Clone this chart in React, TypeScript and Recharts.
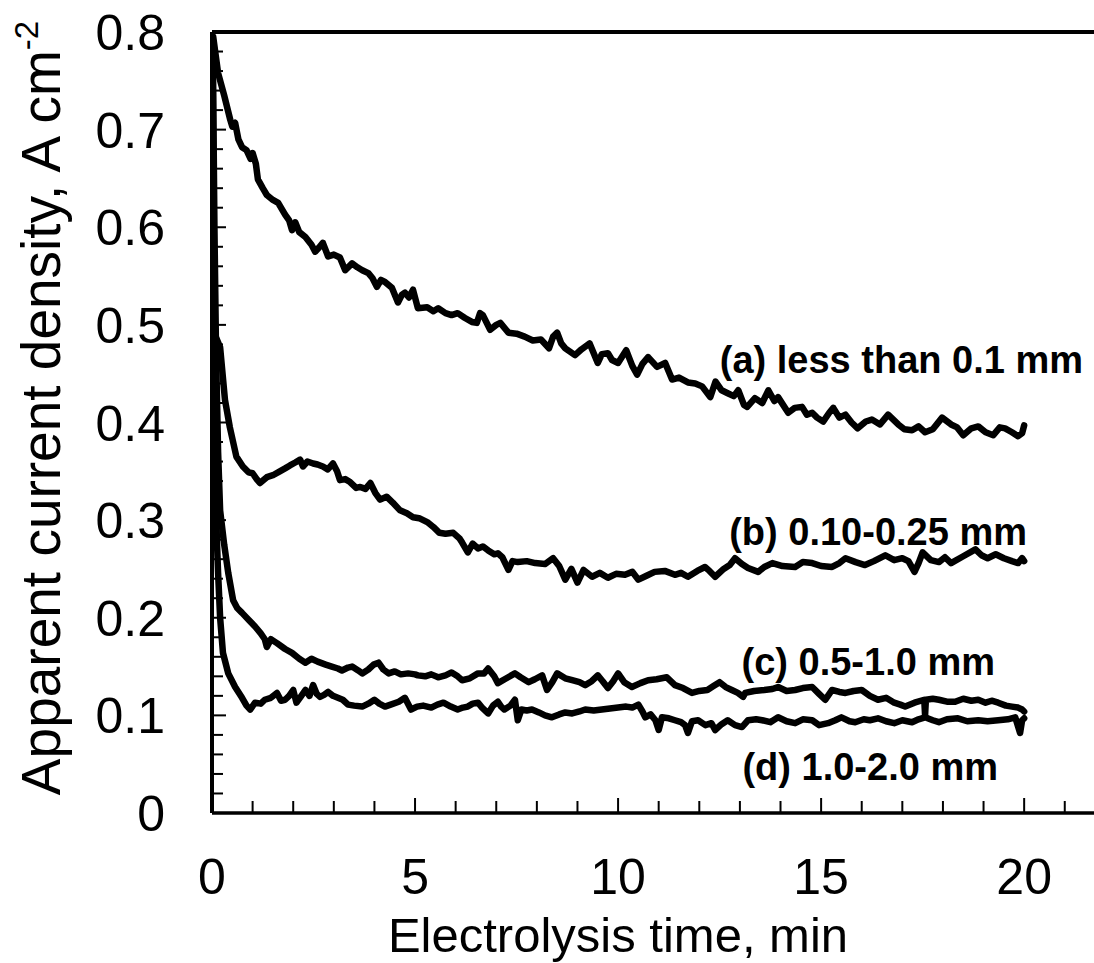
import { LineChart, Line, XAxis, YAxis, ReferenceLine } from "recharts";

// time (min), apparent current density (A cm-2)
const curveA: [number, number][] = [
  [0.03, 0.795], [0.15, 0.758], [0.3, 0.735], [0.45, 0.71], [0.5, 0.703], [0.57, 0.707],
  [0.65, 0.69], [0.74, 0.682], [0.85, 0.679], [0.95, 0.67], [1.0, 0.676], [1.08, 0.665],
  [1.13, 0.649], [1.25, 0.64], [1.35, 0.633], [1.5, 0.628], [1.63, 0.625], [1.8, 0.613],
  [1.9, 0.607], [1.97, 0.597], [2.05, 0.605], [2.15, 0.595], [2.3, 0.59], [2.45, 0.582],
  [2.54, 0.575], [2.63, 0.579], [2.73, 0.584], [2.86, 0.57], [3.0, 0.572], [3.15, 0.569],
  [3.28, 0.556], [3.45, 0.563], [3.58, 0.559], [3.7, 0.556], [3.85, 0.553], [3.95, 0.548],
  [4.06, 0.539], [4.16, 0.546], [4.26, 0.544], [4.43, 0.538], [4.58, 0.523], [4.68, 0.531],
  [4.75, 0.533], [4.85, 0.528], [4.95, 0.536], [5.07, 0.517], [5.3, 0.518], [5.45, 0.514],
  [5.57, 0.517], [5.75, 0.512], [5.9, 0.51], [6.05, 0.512], [6.23, 0.507], [6.4, 0.503],
  [6.52, 0.502], [6.6, 0.512], [6.67, 0.51], [6.85, 0.495], [7.0, 0.5], [7.1, 0.502],
  [7.3, 0.492], [7.5, 0.491], [7.7, 0.488], [7.9, 0.484], [8.1, 0.485], [8.3, 0.476],
  [8.4, 0.488], [8.5, 0.492], [8.6, 0.481], [8.7, 0.476], [8.94, 0.469], [9.1, 0.475],
  [9.3, 0.481], [9.5, 0.461], [9.6, 0.47], [9.75, 0.471], [9.85, 0.464], [10.0, 0.461],
  [10.2, 0.474], [10.35, 0.458], [10.47, 0.449], [10.6, 0.46], [10.74, 0.467], [10.96, 0.457],
  [11.16, 0.461], [11.33, 0.444], [11.5, 0.446], [11.72, 0.441], [11.9, 0.44], [12.07, 0.437],
  [12.27, 0.426], [12.4, 0.442], [12.55, 0.433], [12.7, 0.43], [12.85, 0.427], [12.96, 0.433],
  [13.1, 0.418], [13.18, 0.416], [13.37, 0.425], [13.55, 0.42], [13.7, 0.433], [13.85, 0.422],
  [13.94, 0.426], [14.19, 0.41], [14.35, 0.415], [14.53, 0.416], [14.65, 0.408], [14.78, 0.41],
  [14.9, 0.405], [15.05, 0.401], [15.2, 0.41], [15.3, 0.415], [15.45, 0.405], [15.6, 0.408],
  [15.75, 0.4], [15.9, 0.394], [16.1, 0.401], [16.25, 0.403], [16.45, 0.398], [16.65, 0.408],
  [16.9, 0.398], [17.05, 0.393], [17.24, 0.392], [17.4, 0.396], [17.56, 0.39], [17.75, 0.393],
  [17.98, 0.405], [18.2, 0.398], [18.35, 0.395], [18.5, 0.387], [18.7, 0.394], [18.87, 0.396],
  [19.05, 0.39], [19.24, 0.387], [19.4, 0.395], [19.53, 0.394], [19.7, 0.39], [19.85, 0.386],
  [19.95, 0.389], [20.0, 0.397],
];

const curveB: [number, number][] = [
  [0.03, 0.49], [0.1, 0.487], [0.2, 0.477], [0.32, 0.423], [0.44, 0.395], [0.6, 0.365],
  [0.76, 0.355], [0.9, 0.349], [1.0, 0.348], [1.1, 0.342], [1.18, 0.338], [1.35, 0.344],
  [1.5, 0.346], [1.67, 0.35], [1.8, 0.353], [1.92, 0.356], [2.05, 0.359], [2.17, 0.362],
  [2.24, 0.355], [2.35, 0.36], [2.49, 0.358], [2.6, 0.357], [2.73, 0.355], [2.85, 0.352],
  [2.98, 0.358], [3.08, 0.35], [3.15, 0.341], [3.28, 0.342], [3.4, 0.339], [3.55, 0.333],
  [3.65, 0.334], [3.78, 0.332], [3.9, 0.338], [4.02, 0.328], [4.14, 0.321], [4.3, 0.324],
  [4.45, 0.318], [4.63, 0.31], [4.8, 0.307], [4.95, 0.303], [5.1, 0.302], [5.3, 0.298],
  [5.45, 0.293], [5.6, 0.287], [5.75, 0.286], [5.94, 0.287], [6.1, 0.281], [6.16, 0.277],
  [6.3, 0.267], [6.42, 0.276], [6.55, 0.271], [6.67, 0.273], [6.8, 0.269], [6.95, 0.265],
  [7.04, 0.266], [7.15, 0.262], [7.3, 0.249], [7.4, 0.258], [7.53, 0.257], [7.75, 0.258],
  [7.96, 0.256], [8.2, 0.255], [8.4, 0.261], [8.55, 0.253], [8.7, 0.239], [8.85, 0.25],
  [9.0, 0.236], [9.15, 0.249], [9.36, 0.242], [9.55, 0.246], [9.75, 0.241], [9.95, 0.245],
  [10.17, 0.244], [10.35, 0.247], [10.5, 0.239], [10.7, 0.243], [10.9, 0.247], [11.15, 0.248],
  [11.4, 0.244], [11.55, 0.246], [11.72, 0.242], [11.95, 0.248], [12.14, 0.252], [12.25, 0.248],
  [12.39, 0.242], [12.6, 0.25], [12.75, 0.254], [12.88, 0.261], [13.05, 0.255], [13.2, 0.251],
  [13.45, 0.247], [13.6, 0.252], [13.8, 0.256], [14.05, 0.253], [14.36, 0.252], [14.55, 0.257],
  [14.78, 0.256], [15.0, 0.253], [15.27, 0.252], [15.45, 0.256], [15.6, 0.261], [15.85, 0.257],
  [16.08, 0.254], [16.3, 0.258], [16.58, 0.264], [16.8, 0.259], [17.0, 0.261], [17.15, 0.258],
  [17.3, 0.247], [17.4, 0.256], [17.5, 0.267], [17.7, 0.259], [17.9, 0.257], [18.05, 0.262],
  [18.2, 0.256], [18.5, 0.263], [18.8, 0.27], [18.95, 0.264], [19.1, 0.261], [19.3, 0.265],
  [19.5, 0.261], [19.7, 0.258], [19.85, 0.256], [19.95, 0.261], [20.0, 0.258],
];

const curveC: [number, number][] = [
  [0.02, 0.78], [0.06, 0.6], [0.1, 0.47], [0.15, 0.37], [0.2, 0.31], [0.3, 0.275],
  [0.4, 0.246], [0.52, 0.218], [0.62, 0.21], [0.74, 0.205], [0.9, 0.198], [1.06, 0.191],
  [1.2, 0.184], [1.3, 0.178], [1.35, 0.17], [1.45, 0.178], [1.6, 0.174], [1.8, 0.168],
  [1.97, 0.164], [2.15, 0.158], [2.3, 0.154], [2.45, 0.158], [2.6, 0.155], [2.8, 0.152],
  [2.95, 0.15], [3.1, 0.148], [3.2, 0.146], [3.35, 0.149], [3.45, 0.15], [3.6, 0.146],
  [3.7, 0.143], [3.85, 0.147], [3.98, 0.152], [4.1, 0.154], [4.22, 0.147], [4.35, 0.143],
  [4.5, 0.145], [4.65, 0.142], [4.83, 0.143], [5.0, 0.142], [5.07, 0.141], [5.25, 0.14],
  [5.4, 0.142], [5.57, 0.139], [5.75, 0.141], [5.9, 0.144], [6.05, 0.14], [6.16, 0.136],
  [6.35, 0.138], [6.55, 0.143], [6.7, 0.143], [6.8, 0.148], [6.95, 0.14], [7.04, 0.133],
  [7.25, 0.138], [7.46, 0.143], [7.6, 0.139], [7.8, 0.134], [7.95, 0.137], [8.13, 0.141],
  [8.25, 0.126], [8.38, 0.134], [8.5, 0.143], [8.7, 0.138], [8.87, 0.136], [9.05, 0.134],
  [9.19, 0.131], [9.35, 0.135], [9.5, 0.141], [9.62, 0.135], [9.75, 0.128], [9.88, 0.135],
  [10.0, 0.143], [10.15, 0.134], [10.34, 0.129], [10.55, 0.133], [10.74, 0.136], [10.95, 0.137],
  [11.2, 0.139], [11.4, 0.131], [11.6, 0.128], [11.82, 0.123], [12.0, 0.125], [12.2, 0.126],
  [12.35, 0.13], [12.5, 0.134], [12.65, 0.129], [12.8, 0.126], [12.95, 0.123], [13.08, 0.119],
  [13.13, 0.123], [13.35, 0.125], [13.6, 0.126], [13.8, 0.127], [13.94, 0.129], [14.15, 0.125],
  [14.36, 0.126], [14.55, 0.128], [14.78, 0.129], [14.95, 0.122], [15.1, 0.116], [15.27, 0.126],
  [15.45, 0.124], [15.6, 0.123], [15.8, 0.125], [16.0, 0.126], [16.2, 0.12], [16.4, 0.116],
  [16.6, 0.118], [16.8, 0.113], [16.95, 0.111], [17.07, 0.109], [17.3, 0.113], [17.54, 0.116],
  [17.56, 0.1], [17.58, 0.116], [17.75, 0.117], [17.9, 0.116], [18.1, 0.114], [18.3, 0.114],
  [18.5, 0.117], [18.7, 0.115], [18.87, 0.116], [19.05, 0.113], [19.2, 0.115], [19.36, 0.113],
  [19.55, 0.11], [19.7, 0.109], [19.85, 0.108], [19.95, 0.106], [20.0, 0.104],
];

const curveD: [number, number][] = [
  [0.02, 0.75], [0.05, 0.5], [0.08, 0.35], [0.12, 0.28], [0.15, 0.246], [0.2, 0.2],
  [0.27, 0.164], [0.4, 0.143], [0.57, 0.129], [0.74, 0.118], [0.85, 0.11], [0.94, 0.106],
  [1.06, 0.113], [1.2, 0.112], [1.3, 0.116], [1.45, 0.118], [1.6, 0.123], [1.7, 0.115],
  [1.8, 0.116], [1.9, 0.12], [2.0, 0.126], [2.08, 0.113], [2.2, 0.12], [2.3, 0.126],
  [2.4, 0.12], [2.49, 0.131], [2.58, 0.122], [2.66, 0.119], [2.76, 0.121], [2.86, 0.124],
  [2.98, 0.12], [3.1, 0.118], [3.22, 0.116], [3.35, 0.111], [3.5, 0.11], [3.7, 0.109],
  [3.85, 0.112], [4.0, 0.116], [4.12, 0.112], [4.26, 0.109], [4.4, 0.111], [4.6, 0.114],
  [4.75, 0.118], [4.9, 0.106], [5.05, 0.109], [5.2, 0.11], [5.4, 0.108], [5.55, 0.111],
  [5.7, 0.113], [5.88, 0.109], [6.05, 0.106], [6.18, 0.108], [6.3, 0.109], [6.42, 0.112],
  [6.55, 0.113], [6.65, 0.108], [6.8, 0.102], [6.92, 0.11], [7.04, 0.114], [7.12, 0.109],
  [7.2, 0.106], [7.35, 0.11], [7.46, 0.116], [7.53, 0.095], [7.62, 0.106], [7.75, 0.105],
  [7.88, 0.106], [8.05, 0.103], [8.2, 0.1], [8.37, 0.098], [8.55, 0.101], [8.7, 0.103],
  [8.87, 0.102], [9.05, 0.104], [9.19, 0.106], [9.4, 0.105], [9.6, 0.106], [9.8, 0.107],
  [10.0, 0.108], [10.2, 0.109], [10.35, 0.108], [10.5, 0.111], [10.6, 0.104], [10.67, 0.098],
  [10.8, 0.101], [10.92, 0.095], [11.0, 0.085], [11.08, 0.098], [11.25, 0.097], [11.4, 0.095],
  [11.55, 0.093], [11.65, 0.09], [11.72, 0.082], [11.82, 0.094], [11.97, 0.095], [12.15, 0.09],
  [12.3, 0.092], [12.39, 0.085], [12.55, 0.091], [12.7, 0.095], [12.88, 0.09], [13.05, 0.088],
  [13.2, 0.095], [13.4, 0.096], [13.55, 0.095], [13.75, 0.093], [13.94, 0.098], [14.15, 0.094],
  [14.36, 0.092], [14.55, 0.096], [14.78, 0.095], [14.95, 0.09], [15.17, 0.092], [15.35, 0.095],
  [15.5, 0.098], [15.7, 0.094], [15.84, 0.093], [16.05, 0.096], [16.2, 0.095], [16.4, 0.097],
  [16.6, 0.094], [16.8, 0.092], [17.0, 0.095], [17.24, 0.093], [17.4, 0.096], [17.56, 0.098],
  [17.75, 0.095], [17.9, 0.093], [18.1, 0.096], [18.37, 0.097], [18.6, 0.094], [18.87, 0.095],
  [19.1, 0.094], [19.36, 0.095], [19.6, 0.096], [19.78, 0.098], [19.9, 0.082], [19.95, 0.095],
  [20.0, 0.097],
];

const SERIES_LABELS = [
  "(a) less than 0.1 mm",
  "(b) 0.10-0.25 mm",
  "(c) 0.5-1.0 mm",
  "(d) 1.0-2.0 mm",
];

const X_TICKS = [0, 1, 2, 3, 4, 5, 6, 7, 8, 9, 10, 11, 12, 13, 14, 15, 16, 17, 18, 19, 20, 21];
const Y_TICKS = [
  0, 0.02, 0.04, 0.06, 0.08, 0.1, 0.12, 0.14, 0.16, 0.18, 0.2, 0.22, 0.24, 0.26, 0.28, 0.3,
  0.32, 0.34, 0.36, 0.38, 0.4, 0.42, 0.44, 0.46, 0.48, 0.5, 0.52, 0.54, 0.56, 0.58, 0.6,
  0.62, 0.64, 0.66, 0.68, 0.7, 0.72, 0.74, 0.76, 0.78, 0.8,
];

const FONT = "Arial, 'Liberation Sans', Helvetica, sans-serif";

const toRows = (c: [number, number][]) => c.map(([t, j]) => ({ t, j }));

const XTick = (props: any) => {
  const { x, y, payload } = props;
  const v = payload.value as number;
  const major = v % 5 === 0;
  return (
    <g>
      <line x1={x} x2={x} y1={y} y2={y - (major ? 15 : 12)} stroke="#000" strokeWidth={2} />
      {major && (
        <text x={x} y={y + 81} textAnchor="middle" fontSize={50} fontFamily={FONT} fill="#000">
          {v}
        </text>
      )}
    </g>
  );
};

const YTick = (props: any) => {
  const { x, y, payload } = props;
  const v = payload.value as number;
  const major = Math.abs(Math.round(v * 10) - v * 10) < 1e-6;
  return (
    <g>
      <line x1={x} x2={x + (major ? 14 : 11)} y1={y} y2={y} stroke="#000" strokeWidth={2} />
      {major && (
        <text
          x={x - 47}
          y={y}
          dy="0.36em"
          textAnchor="end"
          fontSize={50}
          fontFamily={FONT}
          fill="#000"
        >
          {v === 0 ? "0" : v.toFixed(1)}
        </text>
      )}
    </g>
  );
};

export default function App() {
  const lineProps = {
    type: "linear" as const,
    dataKey: "j",
    stroke: "#000",
    strokeWidth: 6.5,
    strokeLinejoin: "round" as const,
    strokeLinecap: "round" as const,
    dot: false,
    activeDot: false,
    isAnimationActive: false,
  };

  return (
    <div style={{ position: "absolute", left: 0, top: 0, width: 1094, height: 963, background: "#fff" }}>
      <LineChart width={1094} height={963} margin={{ top: 32, right: 0, bottom: 0, left: 0 }}>
        <XAxis
          type="number"
          dataKey="t"
          domain={[0, 21.72]}
          ticks={X_TICKS}
          interval={0}
          height={150}
          tickSize={0}
          tickMargin={0}
          tick={<XTick />}
          axisLine={{ stroke: "#000", strokeWidth: 3.5 }}
          allowDataOverflow
        />
        <YAxis
          type="number"
          domain={[0, 0.8]}
          ticks={Y_TICKS}
          interval={0}
          width={212}
          tickSize={0}
          tickMargin={0}
          tick={<YTick />}
          axisLine={{ stroke: "#000", strokeWidth: 4 }}
        />
        <ReferenceLine y={0.8} stroke="#000" strokeWidth={4} />
        <Line {...lineProps} data={toRows(curveA)} />
        <Line {...lineProps} data={toRows(curveB)} />
        <Line {...lineProps} data={toRows(curveC)} />
        <Line {...lineProps} data={toRows(curveD)} />
      </LineChart>
      <svg
        width={1094}
        height={963}
        style={{ position: "absolute", left: 0, top: 0, pointerEvents: "none" }}
        fontFamily={FONT}
      >
        <text x={1083} y={373} textAnchor="end" fontSize={38} fontWeight="bold">{SERIES_LABELS[0]}</text>
        <text x={1027} y={545} textAnchor="end" fontSize={38} fontWeight="bold">{SERIES_LABELS[1]}</text>
        <text x={995} y={675} textAnchor="end" fontSize={38} fontWeight="bold">{SERIES_LABELS[2]}</text>
        <text x={998} y={780} textAnchor="end" fontSize={38} fontWeight="bold">{SERIES_LABELS[3]}</text>
        <text x={618} y={952} textAnchor="middle" fontSize={49}>Electrolysis time, min</text>
        <text transform="translate(60,408) rotate(-90)" textAnchor="middle" fontSize={55}>
          Apparent current density, A cm<tspan dy={-22} fontSize={33}>-2</tspan>
        </text>
      </svg>
    </div>
  );
}
